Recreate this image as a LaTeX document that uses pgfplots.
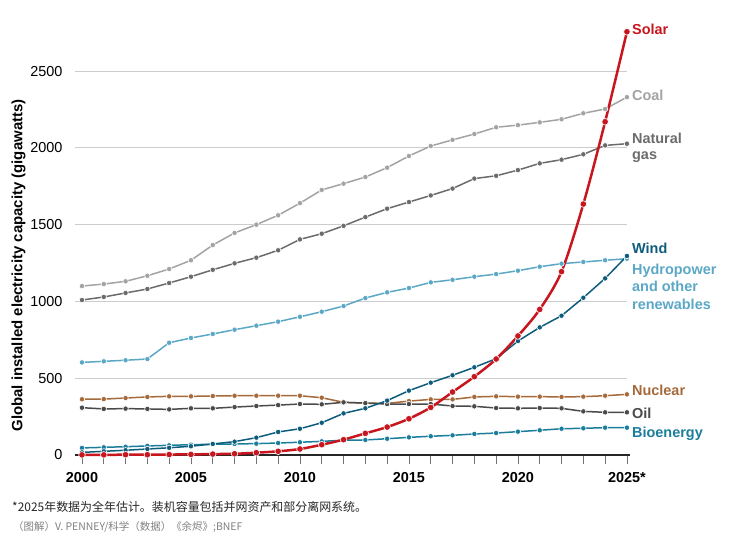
\documentclass[border=0pt]{standalone}
\usepackage{pgfplots}
\pgfplotsset{compat=1.18}
\usepackage{pgfplotstable}
\usepackage{fontspec}
\setmainfont{Liberation Sans}
\newfontfamily\cjk{Noto Sans CJK SC}

\definecolor{csolar}{HTML}{C8161E}
\definecolor{ccoal}{HTML}{A3A3A3}
\definecolor{cgas}{HTML}{6B6B6B}
\definecolor{cwind}{HTML}{0E5C7B}
\definecolor{chydro}{HTML}{5BA8C6}
\definecolor{cnuc}{HTML}{A5693A}
\definecolor{coil}{HTML}{4A4A4A}
\definecolor{cbio}{HTML}{1A7D9C}
\definecolor{cgrid}{HTML}{CCCCCC}

% installed capacity, GW (2025 = estimate)
\pgfplotstableread{
year solar wind hydro bio nuc oil gas coal
2000 1 17 603 46 363 308 1009 1100
2001 1 24 610 50 364 300 1029 1113
2002 2 31 617 54 371 302 1055 1131
2003 2 39 625 59 378 300 1081 1167
2004 3 47 731 63 382 297 1120 1211
2005 4 57 762 67 382 304 1161 1268
2006 6 72 788 70 384 304 1206 1367
2007 8 87 816 72 386 312 1248 1446
2008 15 113 842 74 386 319 1285 1500
2009 24 150 868 78 386 325 1333 1561
2010 39 171 900 83 386 332 1404 1640
2011 67 210 933 89 373 330 1441 1726
2012 100 271 970 96 343 343 1492 1767
2013 141 304 1022 98 338 338 1549 1810
2014 182 354 1059 106 336 332 1604 1871
2015 236 419 1087 115 351 332 1647 1947
2016 310 471 1124 122 362 332 1690 2012
2017 410 519 1141 128 362 319 1735 2052
2018 510 571 1161 137 378 317 1800 2090
2019 625 627 1178 143 382 306 1818 2134
2020 775 742 1200 152 380 304 1855 2148
2021 948 831 1226 161 380 306 1899 2166
2022 1194 907 1246 171 378 304 1923 2186
2023 1634 1024 1257 174 380 284 1958 2225
2024 2170 1150 1268 178 386 278 2016 2253
2025 2756 1296 1278 178 395 278 2027 2330
}\capdata

\pgfplotsset{
  ser/.style={line width=1.5bp, color=#1, mark=*, mark size=2.7bp,
    mark options={fill=#1, draw=white, line width=0.6bp}},
}
\tikzset{
  lab/.style={anchor=base west, inner sep=0pt, font=\bfseries\fontsize{14.5}{17}\selectfont, text=#1},
}

\begin{document}
\begin{tikzpicture}
\path[use as bounding box] (-75bp,-84bp) rectangle (659bp,455bp);
\begin{axis}[
    at={(0,0)}, anchor=south west,
    scale only axis,
    width=565bp, height=430bp,
    xmin=1999.68, xmax=2025.6,
    ymin=0, ymax=2800,
    clip=false,
    axis x line*=bottom, axis y line*=left,
    axis line style={draw=none},
    xtick={2000,2005,2010,2015,2020,2025},
    xticklabels={2000,2005,2010,2015,2020,2025*},
    minor x tick num=4,
    tick align=outside,
    x tick style={color=black!55, line width=0.8bp},
    major tick length=9bp, minor tick length=9bp,
    ytick={0,500,1000,1500,2000,2500},
    y tick style={draw=none},
    xticklabel style={font=\bfseries\fontsize{14.5}{16}\selectfont, yshift=-5bp},
    yticklabel style={font=\fontsize{14.5}{16}\selectfont},
    /pgf/number format/assume math mode=true,
    /pgf/number format/set thousands separator={},
  ]
  \foreach \g in {500,1000,1500,2000,2500}{
    \edef\tmp{\noexpand\draw[cgrid, line width=0.8bp] (axis cs:1999.68,\g) -- (axis cs:2025,\g);}\tmp
  }
  \draw[black!85, line width=1.6bp] (axis cs:1999.68,0) -- (axis cs:2025.15,0);

  \addplot[ser=ccoal] table[x=year, y=coal] {\capdata};
  \addplot[ser=cgas] table[x=year, y=gas] {\capdata};
  \addplot[ser=chydro] table[x=year, y=hydro] {\capdata};
  \addplot[ser=cnuc] table[x=year, y=nuc] {\capdata};
  \addplot[ser=coil] table[x=year, y=oil] {\capdata};
  \addplot[ser=cbio] table[x=year, y=bio] {\capdata};
  \addplot[ser=cwind] table[x=year, y=wind] {\capdata};
  \addplot[ser=csolar, line width=2.5bp, smooth, mark size=3.3bp] table[x=year, y=solar] {\capdata};

  \node[lab=csolar] at (axis cs:2025.23,2741) {Solar};
  \node[lab=ccoal] at (axis cs:2025.23,2311) {Coal};
  \node[lab=cgas] at (axis cs:2025.23,2029) {Natural};
  \node[lab=cgas] at (axis cs:2025.23,1922) {gas};
  \node[lab=cwind] at (axis cs:2025.23,1313) {Wind};
  \node[lab=chydro] at (axis cs:2025.23,1176) {Hydropower};
  \node[lab=chydro] at (axis cs:2025.23,1063) {and other};
  \node[lab=chydro] at (axis cs:2025.23,950) {renewables};
  \node[lab=cnuc] at (axis cs:2025.23,386) {Nuclear};
  \node[lab=coil] at (axis cs:2025.23,239) {Oil};
  \node[lab=cbio] at (axis cs:2025.23,117) {Bioenergy};
\end{axis}
\node[rotate=90, font=\bfseries\fontsize{15}{17}\selectfont] at (-56.5bp,189.5bp)
  {Global installed electricity capacity (gigawatts)};
\node[anchor=west, inner sep=0pt, font=\cjk\fontsize{12}{14}\selectfont, text=black!85]
  at (-63bp,-52bp) {*2025年数据为全年估计。装机容量包括并网资产和部分离网系统。};
\node[anchor=west, inner sep=0pt, font=\cjk\fontsize{10.5}{12}\selectfont, text=black!50]
  at (-62bp,-72bp) {（图解）V. PENNEY/科学（数据）《余烬》;BNEF};
\end{tikzpicture}
\end{document}
